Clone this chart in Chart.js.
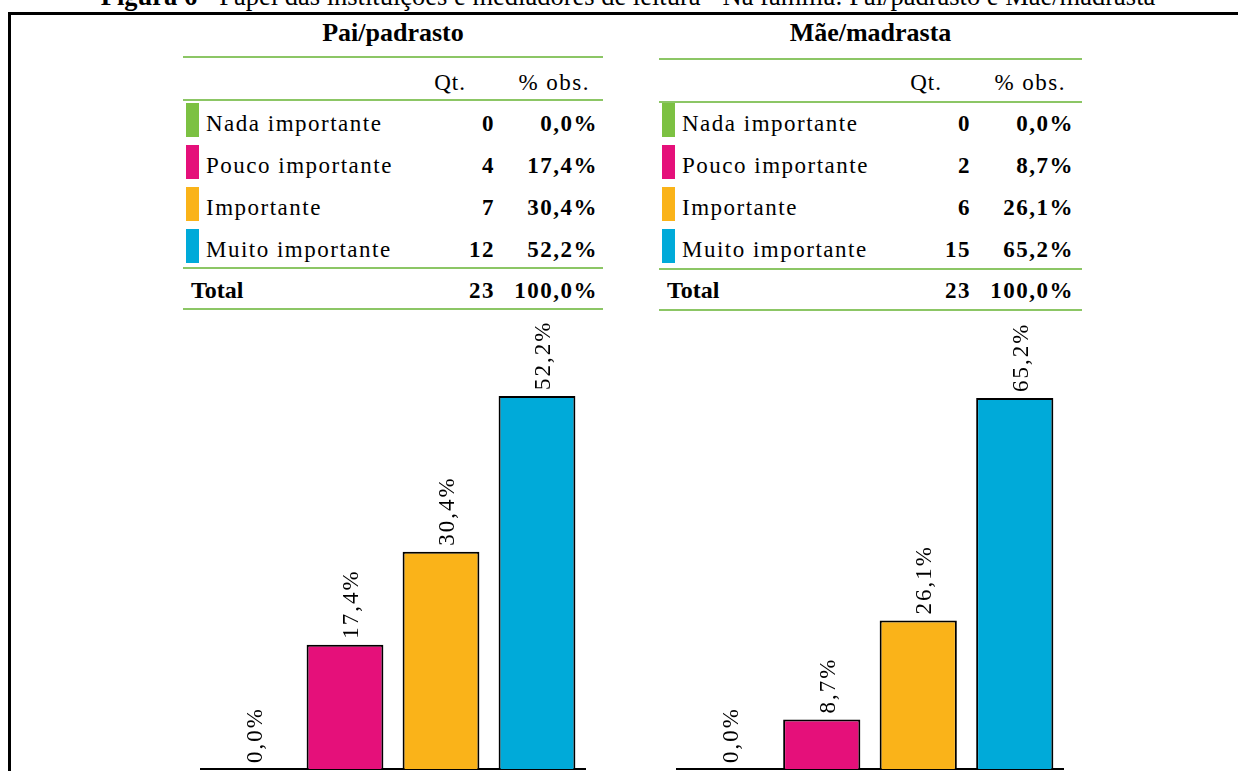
<!DOCTYPE html>
<html lang="pt">
<head>
<meta charset="utf-8">
<title>Figura 6</title>
<script src="https://cdn.jsdelivr.net/npm/chart.js@4.4.0/dist/chart.umd.min.js"></script>
<style>
  html, body { margin: 0; padding: 0; background: #fff; }
  body { width: 1238px; height: 771px; position: relative; overflow: hidden;
         font-family: "Liberation Serif", "DejaVu Serif", serif; color: #000; }
  .abs { position: absolute; white-space: nowrap; line-height: 1; }
  #frame { position: absolute; left: 8px; top: 12px; width: 1300px; height: 800px;
           border-top: 3px solid #000; border-left: 3px solid #000; }
  .rule { position: absolute; height: 2px; background: #8cc665; }
  .sw { position: absolute; width: 13px; height: 34px; }
  canvas { position: absolute; }
</style>
</head>
<body>
<div id="frame"></div>
<canvas id="chartPai" width="420" height="451" style="left:180px;top:320px"></canvas>
<canvas id="chartMae" width="420" height="451" style="left:660px;top:320px"></canvas>
<script>
// --- data ---
const categories = ['Nada importante', 'Pouco importante', 'Importante', 'Muito importante'];
const colors = ['#7cc142', '#e5107a', '#fab319', '#00aad9'];
const paiQt = [0, 4, 7, 12];
const paiPct = [0.0, 17.4, 30.4, 52.2];
const paiTotal = 23;
const maeQt = [0, 2, 6, 15];
const maePct = [0.0, 8.7, 26.1, 65.2];
const maeTotal = 23;

const fmt = v => v.toFixed(1).replace('.', ',') + '%';

// place a text by its baseline (Liberation Serif, line-height 1)
function putText(html, x, baseline, size, align, extra) {
    const el = document.createElement('div');
    el.className = 'abs';
    el.innerHTML = html;
    el.style.fontSize = size + 'px';
    el.style.top = (baseline - 0.8375 * size) + 'px';
    el.style.left = x + 'px';
    if (align === 'right') el.style.transform = 'translateX(-100%)';
    if (align === 'center') el.style.transform = 'translateX(-50%)';
    Object.assign(el.style, extra || {});
    document.body.appendChild(el);
    return el;
}

putText('<b>Figura 6</b> - Papel das instituições e mediadores de leitura - Na família: Pai/padrasto e Mãe/madrasta',
    628, 5.5, 26.5, 'center');

function buildTable(left, width, title, qt, pct, total, rules) {
    putText(title, left + width / 2, 42, 26, 'center', { fontWeight: 'bold' });
    rules.forEach(y => {
        const r = document.createElement('div');
        r.className = 'rule';
        r.style.left = left + 'px';
        r.style.top = y + 'px';
        r.style.width = width + 'px';
        document.body.appendChild(r);
    });
    const qtRight = left + 312, pctRight = left + 415;
    putText('Qt.', left + 283, 90, 23, 'right', { letterSpacing: '1px' });
    putText('% obs.', left + 407, 90, 23, 'right', { letterSpacing: '1.5px' });

    const rowBase = [131, 173, 215, 257];
    categories.forEach((c, i) => {
        const sw = document.createElement('div');
        sw.className = 'sw';
        sw.style.left = (left + 3) + 'px';
        sw.style.top = (rowBase[i] - 28) + 'px';
        sw.style.background = colors[i];
        document.body.appendChild(sw);
        putText(c, left + 23, rowBase[i], 23, 'left', { letterSpacing: '1.5px' });
        putText(String(qt[i]), qtRight, rowBase[i], 23, 'right', { fontWeight: 'bold', letterSpacing: '1.5px' });
        putText(fmt(pct[i]), pctRight, rowBase[i], 23, 'right', { fontWeight: 'bold', letterSpacing: '1.5px' });
    });
    putText('Total', left + 8, 298, 24, 'left', { fontWeight: 'bold' });
    putText(String(total), qtRight, 298, 23, 'right', { fontWeight: 'bold', letterSpacing: '1.5px' });
    putText(fmt(100), pctRight, 298, 23, 'right', { fontWeight: 'bold', letterSpacing: '1.5px' });
}

buildTable(183, 420, 'Pai/padrasto', paiQt, paiPct, paiTotal, [56, 99, 267, 308]);
buildTable(659, 423, 'Mãe/madrasta', maeQt, maePct, maeTotal, [58, 101, 268, 309]);

// vertical value labels above each bar
const barLabels = {
    id: 'barLabels',
    afterDatasetsDraw(chart) {
        const ctx = chart.ctx;
        const values = chart.data.datasets[0].data;
        ctx.save();
        ctx.font = '23px "Liberation Serif"';
        ctx.letterSpacing = '2px';
        ctx.fillStyle = '#000';
        ctx.textBaseline = 'alphabetic';
        ctx.textAlign = 'left';
        chart.getDatasetMeta(0).data.forEach((bar, i) => {
            ctx.save();
            ctx.translate(bar.x + 13, bar.y - 6);
            ctx.rotate(-Math.PI / 2);
            ctx.fillText(fmt(values[i]), 0, 0);
            ctx.restore();
        });
        ctx.restore();
    }
};

function makeChart(id, pct, padLeft, padRight, padTop) {
    return new Chart(document.getElementById(id), {
        type: 'bar',
        data: {
            labels: categories,
            datasets: [{
                data: pct,
                backgroundColor: colors,
                borderColor: '#000',
                borderWidth: 2,
                barPercentage: 0.8,
                categoryPercentage: 1
            }]
        },
        options: {
            responsive: false, animation: false, devicePixelRatio: 1,
            layout: { padding: { left: padLeft, right: padRight, top: padTop, bottom: 2 } },
            plugins: { legend: { display: false }, tooltip: { enabled: false } },
            scales: {
                x: {
                    grid: { display: false, drawTicks: false },
                    ticks: { display: false },
                    border: { display: true, color: '#000', width: 2 }
                },
                y: { display: false, min: 0, max: Math.max(...pct) }
            }
        },
        plugins: [barLabels]
    });
}

makeChart('chartPai', paiPct, 21, 15, 76);
makeChart('chartMae', maePct, 17, 17, 78);
</script>
</body>
</html>
